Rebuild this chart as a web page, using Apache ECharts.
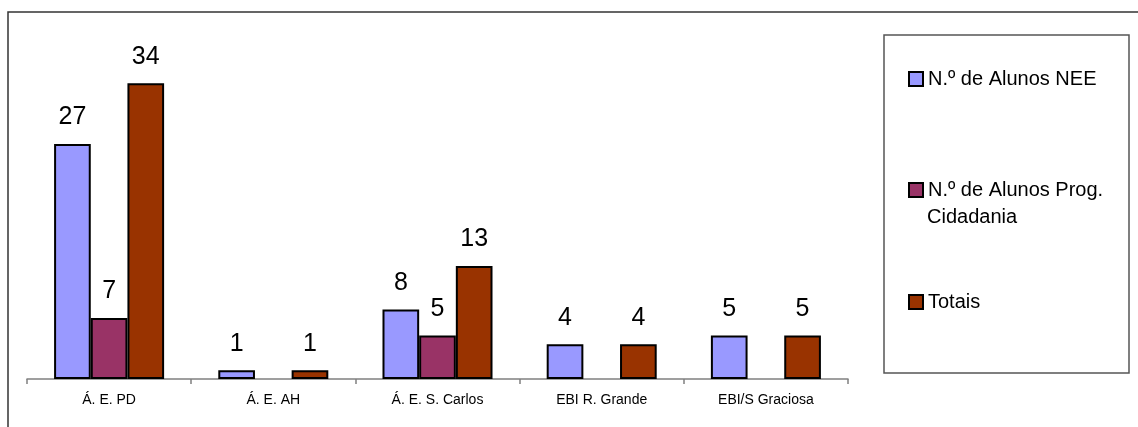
<!DOCTYPE html>
<html>
<head>
<meta charset="utf-8">
<script src="https://cdn.jsdelivr.net/npm/echarts@6/dist/echarts.min.js"></script>
<style>
    html, body { margin: 0; padding: 0; background: #fff; }
    #chart { width: 1138px; height: 427px; }
</style>
</head>
<body>
<div id="chart"></div>
<script>
    // categories and values
    const categories = ['Á. E. PD', 'Á. E. AH', 'Á. E. S. Carlos', 'EBI R. Grande', 'EBI/S Graciosa'];
    const alunosNEE = [27, 1, 8, 4, 5];
    const alunosCidadania = [7, null, 5, null, null];
    const totais = [34, 1, 13, 4, 5];

    const seriesNames = ['N.º de Alunos NEE', 'N.º de Alunos Prog. Cidadania', 'Totais'];
    const seriesColors = ['#9999FF', '#993366', '#993300'];
    const seriesData = [alunosNEE, alunosCidadania, totais];

    const fontFamily = 'Liberation Sans, Arial, sans-serif';
    const chart = echarts.init(document.getElementById('chart'));

    // one legend per item, Excel spaces them by top position
    const legendTops = [67, 178, 290];
    const legends = seriesNames.map((name, i) => {
        return {
            data: [name],
            left: 908,
            top: legendTops[i],
            icon: 'rect',
            itemWidth: 14,
            itemHeight: 14,
            padding: 0,
            selectedMode: false,
            // second line of the long name is drawn as a graphic text below
            formatter: (n) => n === 'N.º de Alunos Prog. Cidadania' ? 'N.º de Alunos Prog.' : n,
            textStyle: {
                fontFamily: fontFamily,
                fontSize: 20,
                color: '#000',
                lineHeight: 24
            }
        }
    });

    const option = {
        animation: false,
        backgroundColor: '#fff',
        grid: {
            left: 27,
            right: 290,
            top: 31,
            bottom: 48
        },
        legend: legends,
        graphic: [
            {
                type: 'rect',
                shape: { x: 8, y: 12, width: 1200, height: 500 },
                style: { fill: 'none', stroke: '#333', lineWidth: 1.5 },
                silent: true
            },
            {
                type: 'rect',
                shape: { x: 884, y: 35, width: 245, height: 338 },
                style: { fill: 'none', stroke: '#555', lineWidth: 1.5 },
                silent: true,
                z: -1
            },
            {
                type: 'text',
                left: 927,
                top: 205,
                silent: true,
                style: {
                    text: 'Cidadania',
                    fontFamily: fontFamily,
                    fontSize: 20,
                    lineHeight: 24,
                    fill: '#000'
                }
            }
        ],
        xAxis: {
            type: 'category',
            data: categories,
            axisLine: {
                lineStyle: { color: '#808080', width: 1.5 }
            },
            axisTick: {
                show: true,
                length: 5,
                lineStyle: { color: '#808080', width: 1.5 }
            },
            axisLabel: {
                color: '#000',
                fontFamily: fontFamily,
                fontSize: 14,
                margin: 14
            }
        },
        yAxis: {
            type: 'value',
            min: 0,
            max: 40,
            interval: 10,
            show: false,
            splitLine: { show: false }
        },
        series: seriesNames.map((name, i) => {
            return {
                name: name,
                type: 'bar',
                data: seriesData[i],
                barGap: '0%',
                barCategoryGap: '33%',
                itemStyle: {
                    color: seriesColors[i],
                    borderColor: '#000',
                    borderWidth: 2
                },
                label: {
                    show: true,
                    position: 'top',
                    distance: 14,
                    color: '#000',
                    fontFamily: fontFamily,
                    fontSize: 25
                }
            }
        })
    };

    chart.setOption(option);
</script>
</body>
</html>
